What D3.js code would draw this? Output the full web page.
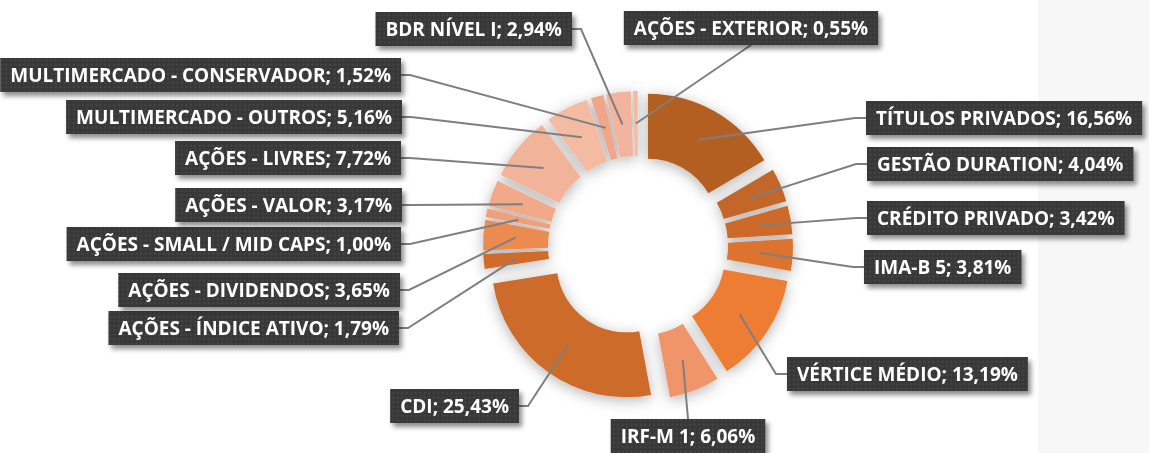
<!DOCTYPE html>
<html>
<head>
<meta charset="utf-8">
<script src="https://cdn.jsdelivr.net/npm/d3@7"></script>
<style>
  body { margin: 0; background: #fff; }
  .lbl text { font-family: "Open Sans", sans-serif; font-weight: bold; font-size: 19px; fill: #fff; }
  .leader { fill: none; stroke: #7f7f7f; stroke-width: 2; }
</style>
</head>
<body>
<svg width="1149" height="453"></svg>
<script>
// categories in clockwise order, starting at 12 o'clock
var categories = [
  "TÍTULOS PRIVADOS", "GESTÃO DURATION", "CRÉDITO PRIVADO", "IMA-B 5",
  "VÉRTICE MÉDIO", "IRF-M 1", "CDI", "AÇÕES - ÍNDICE ATIVO",
  "AÇÕES - DIVIDENDOS", "AÇÕES - SMALL / MID CAPS", "AÇÕES - VALOR", "AÇÕES - LIVRES",
  "MULTIMERCADO - OUTROS", "MULTIMERCADO - CONSERVADOR", "BDR NÍVEL I", "AÇÕES - EXTERIOR"
];
var values = [16.56, 4.04, 3.42, 3.81, 13.19, 6.06, 25.43, 1.79, 3.65, 1.00, 3.17, 7.72, 5.16, 1.52, 2.94, 0.55];
var colors = [
  "#b35e22", "#c3662a", "#cd6b2c", "#dc732f", "#ed7d31", "#f0956a", "#cd6c2a", "#d06c2b",
  "#eb8b50", "#efa07a", "#f1a98a", "#f2b39b", "#f3bba2", "#efa68a", "#f3b49e", "#f3b9a3"
];

// where each label box sits: side of the box the leader leaves from, and that point
var labelPos = [
  ["left", 866, 118], ["left", 867, 164], ["left", 867, 218], ["left", 864, 267],
  ["left", 787, 374], ["top", 688, 419], ["right", 519, 406], ["right", 399, 328],
  ["right", 400, 290], ["right", 401, 244], ["right", 402, 205], ["right", 401, 158],
  ["right", 402, 117], ["right", 401, 75], ["right", 572, 29], ["bottom", 751, 45]
];

var svg = d3.select("svg");
var cx = 638, cy = 246, rIn = 70, rOut = 135, explode = 20;

var defs = svg.append("defs");
var pat = defs.append("pattern").attr("id", "dots")
  .attr("width", 4.5).attr("height", 4.5).attr("patternUnits", "userSpaceOnUse");
pat.append("rect").attr("width", 4.5).attr("height", 4.5).attr("fill", "#393939");
pat.append("rect").attr("x", 1).attr("y", 1).attr("width", 1.5).attr("height", 1.5).attr("fill", "#4b4b4b");

var glow = defs.append("filter").attr("id", "glow")
  .attr("x", "-30%").attr("y", "-30%").attr("width", "160%").attr("height", "160%");
glow.append("feGaussianBlur").attr("in", "SourceAlpha").attr("stdDeviation", 7);
glow.append("feOffset").attr("dx", 0).attr("dy", 3).attr("result", "b");
glow.append("feFlood").attr("flood-color", "#000").attr("flood-opacity", 0.3);
glow.append("feComposite").attr("in2", "b").attr("operator", "in");
var gm = glow.append("feMerge");
gm.append("feMergeNode");
gm.append("feMergeNode").attr("in", "SourceGraphic");

var bshadow = defs.append("filter").attr("id", "bshadow")
  .attr("x", "-10%").attr("y", "-30%").attr("width", "125%").attr("height", "180%");
bshadow.append("feGaussianBlur").attr("in", "SourceAlpha").attr("stdDeviation", 2.5);
bshadow.append("feOffset").attr("dx", 3).attr("dy", 4).attr("result", "b");
bshadow.append("feFlood").attr("flood-color", "#000").attr("flood-opacity", 0.45);
bshadow.append("feComposite").attr("in2", "b").attr("operator", "in");
var bm = bshadow.append("feMerge");
bm.append("feMergeNode");
bm.append("feMergeNode").attr("in", "SourceGraphic");

// background
svg.append("rect").attr("width", 1149).attr("height", 453).attr("fill", "#fff");
svg.append("rect").attr("x", 1038).attr("width", 111).attr("height", 453).attr("fill", "#f7f7f7");

var data = categories.map(function(c, i) {
  return { name: c, value: values[i], color: colors[i], pos: labelPos[i] };
});

var pie = d3.pie().sort(null).value(function(d) { return d.value; });
var arc = d3.arc().innerRadius(rIn).outerRadius(rOut);
var arcs = pie(data);

function shift(a) {
  var m = (a.startAngle + a.endAngle) / 2;
  return [Math.sin(m) * explode, -Math.cos(m) * explode];
}

var g = svg.append("g").attr("transform", "translate(" + cx + "," + cy + ")");
g.append("g").attr("filter", "url(#glow)")
  .selectAll("path").data(arcs).enter().append("path")
  .attr("transform", function(d) { var s = shift(d); return "translate(" + s[0] + "," + s[1] + ")"; })
  .attr("d", arc)
  .attr("fill", function(d) { return d.data.color; });

var fmt = d3.format(".2f");
function labelText(d) { return d.name + "; " + fmt(d.value).replace(".", ",") + "%"; }

// leader lines
g.selectAll(".leader").data(arcs).enter().append("path")
  .attr("class", "leader")
  .attr("d", function(d) {
    var c = arc.centroid(d), s = shift(d);
    var ex = c[0] + s[0], ey = c[1] + s[1];
    var p = d.data.pos, ax = p[1] - cx, ay = p[2] - cy;
    if (p[0] == "left") return "M" + ax + "," + ay + "L" + (ax - 11) + "," + ay + "L" + ex + "," + ey;
    if (p[0] == "right") return "M" + ax + "," + ay + "L" + (ax + 9) + "," + ay + "L" + ex + "," + ey;
    return "M" + ax + "," + ay + "L" + ex + "," + ey;
  });

// label boxes
var pad = 10, bh = 34;
var lbl = svg.selectAll(".lbl").data(data).enter().append("g").attr("class", "lbl");
lbl.each(function(d) {
  var grp = d3.select(this);
  var box = grp.append("rect").attr("height", bh).attr("fill", "url(#dots)").attr("filter", "url(#bshadow)");
  var t = grp.append("text").attr("text-anchor", "middle").text(labelText(d));
  var w = t.node().getComputedTextLength() + 2 * pad;
  var p = d.pos, x0, y0;
  if (p[0] == "left") { x0 = p[1]; y0 = p[2] - bh / 2; }
  else if (p[0] == "right") { x0 = p[1] - w; y0 = p[2] - bh / 2; }
  else if (p[0] == "top") { x0 = p[1] - w / 2; y0 = p[2]; }
  else { x0 = p[1] - w / 2; y0 = p[2] - bh; }
  box.attr("x", x0).attr("y", y0).attr("width", w);
  t.attr("x", x0 + w / 2).attr("y", y0 + bh / 2 + 7);
});
</script>
</body>
</html>
